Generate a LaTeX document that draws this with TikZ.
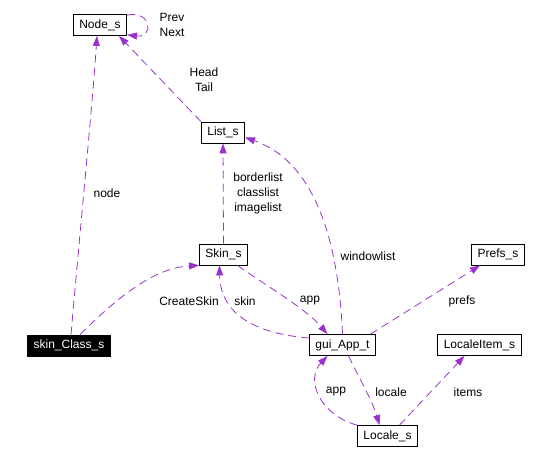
\documentclass[tikz,border=0pt]{standalone}
\usepackage{fontspec}
\setmainfont{Liberation Sans}
\usetikzlibrary{
    arrows.meta % for the filled triangle tips
}
\definecolor{usagecolor}{RGB}{154,50,205}

\begin{document}
\begin{tikzpicture}[
    x=1pt,y=-1pt,>={Triangle[length=10pt,width=7pt]},
    every node/.style   = {font=\fontsize{12}{15}\selectfont},
    class/.style        = {draw,line width=0.8pt,minimum height=21pt,inner xsep=6pt,inner ysep=0pt},
    hidden class/.style = {class,fill=black,text=white},
    usage/.style        = {->,draw=usagecolor,line width=0.8pt,dash pattern=on 8pt off 5pt},
    member/.style       = {align=center,inner sep=0pt}
]
\useasboundingbox (0,0) rectangle (553,460);

% classes

    \node [class]        (node)      at (100,25)    {Node\_s};
    \node [class]        (list)      at (223,132.5) {List\_s};
    \node [class]        (skin)      at (223.5,254.5) {Skin\_s};
    \node [hidden class] (skinclass) at (69,345.5)  {skin\_Class\_s};
    \node [class]        (app)       at (342.5,345) {gui\_App\_t};
    \node [class]        (prefs)     at (498,254.5) {Prefs\_s};
    \node [class]        (item)      at (479.5,345) {LocaleItem\_s};
    \node [class]        (locale)    at (387.5,436) {Locale\_s};

% usage relations with their member names

    \draw [usage] (node.20) .. controls (152,10) and (154,38) .. (node.-20);
    \node [member] (prevnext) at (172,25) {Prev\\Next};

    \draw [usage] ([xshift=2pt]skinclass.north) .. controls (80,230) and (92,110) .. ([xshift=-3pt]node.south);
    \node [member] (nodelbl) at (107,193) {node};

    \draw [usage] (list.north west) -- ([xshift=19pt]node.south);
    \node [member] (headtail) at (204,80) {Head\\Tail};

    \draw [usage] (skin.north) -- (list.south);
    \node [member] (lists) at (258,193) {borderlist\\classlist\\imagelist};

    \draw [usage] (app.north) .. controls (338,230) and (310,160) .. ([yshift=-5pt]list.east);
    \node [member] (windowlbl) at (368,256) {windowlist};

    \draw [usage] ([xshift=11pt]skinclass.north) .. controls (110,305) and (150,268) .. (skin.south west);
    \node [member] (createlbl) at (189,301) {CreateSkin};

    \draw [usage] ([yshift=7pt]app.west) .. controls (235,332) and (220,300) .. ([xshift=-4pt]skin.south);
    \node [member] (skinlbl) at (245,301) {skin};

    \draw [usage] ([xshift=14pt]skin.south) .. controls (265,285) and (305,308) .. ([xshift=-15pt]app.north);
    \node [member] (applbl) at (310,301) {app};

    \draw [usage] ([xshift=28pt]app.north) -- ([xshift=-18pt]prefs.south);
    \node [member] (prefslbl) at (462,301) {prefs};

    \draw [usage] ([xshift=6pt]app.south) .. controls (360,380) and (372,400) .. ([xshift=-8pt]locale.north);
    \node [member] (localelbl) at (391,392) {locale};

    \draw [usage] (locale.north west) .. controls (320,415) and (305,380) .. ([xshift=-15pt]app.south);
    \node [member] (applbl2) at (336,392) {app};

    \draw [usage] ([xshift=12pt]locale.north) -- ([xshift=-15pt]item.south);
    \node [member] (itemslbl) at (468,392) {items};

\end{tikzpicture}
\end{document}
